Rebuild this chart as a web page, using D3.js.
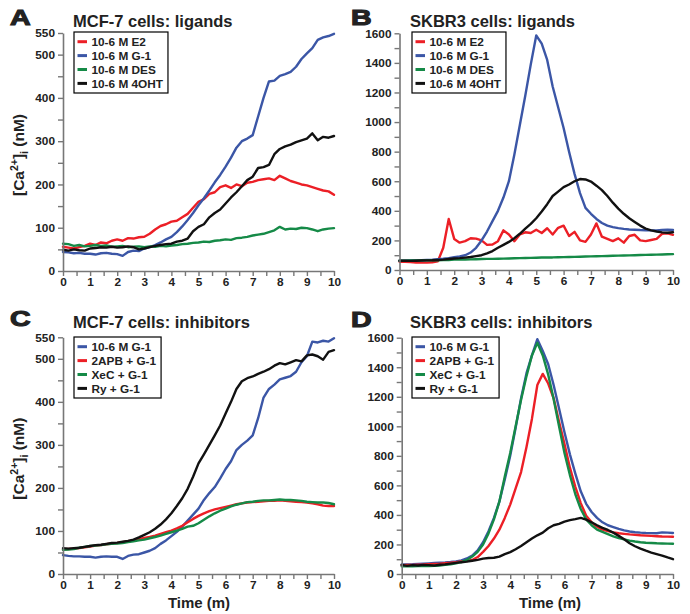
<!DOCTYPE html>
<html><head><meta charset="utf-8">
<script src="https://cdn.jsdelivr.net/npm/d3@7"></script>
<style>body{margin:0;background:#fff} text{font-family:"Liberation Sans",Arial,Helvetica,sans-serif}</style>
</head><body><svg id="c" width="690" height="614"></svg>
<script>
// ---- data ----
const time = [0,0.2,0.4,0.6,0.8,1,1.2,1.4,1.6,1.8,2,2.2,2.4,2.6,2.8,3,3.2,3.4,3.6,3.8,4,4.2,4.4,4.6,4.8,5,5.2,5.4,5.6,5.8,6,6.2,6.4,6.6,6.8,7,7.2,7.4,7.6,7.8,8,8.2,8.4,8.6,8.8,9,9.2,9.4,9.6,9.8,10];

// Panel A: MCF-7 ligands
const mcfE2   = [56,54,52,55,58, 63,60,66,64,70, 73,70,76,75,78, 79,86,96,104,108, 114,116,124,132,146, 160,166,178,182,194, 198,192,200,196,204, 206,210,212,214,210, 220,214,208,204,200, 198,194,190,186,184, 176];
const mcfG1   = [44,43,41,42,40, 40,38,41,42,40, 39,35,44,47,46, 52,55,60,66,73, 79,90,103,118,134, 152,168,186,205,222, 241,262,285,300,306, 314,357,400,438,440, 451,455,460,472,490, 503,515,534,540,543, 548];
const mcfDES  = [63,62,58,60,57, 58,60,58,59,56, 57,58,55,56,57, 55,57,56,58,57, 59,60,62,63,65, 66,68,67,70,71, 73,72,76,77,79, 82,84,86,90,94, 102,96,98,97,100, 99,96,92,96,98, 99];
const mcf4OHT = [49,47,50,48,47, 52,53,55,54,56, 54,55,57,55,50, 52,55,58,60,62, 63,68,70,75,92, 102,108,124,134,142, 156,170,182,196,210, 218,238,240,245,270, 282,288,292,298,302, 306,318,302,310,308, 312];

// Panel B: SKBR3 ligands
const skE2   = [56,55,53,50,50, 50,52,58,150,345, 210,185,195,215,212, 200,170,172,195,268, 240,195,240,255,250, 272,250,282,240,285, 300,230,258,200,190, 240,315,225,210,195, 214,185,230,238,200, 195,203,210,245,248, 238];
const skG1   = [63,63,64,65,66, 68,70,73,76,80, 86,92,100,118,150, 200,260,330,400,490, 600,780,980,1180,1390, 1585,1530,1420,1240,1100, 960,800,650,520,420, 380,345,318,300,290, 283,278,274,272,270, 269,268,268,270,272, 270];
const skDES  = [63,63,64,64,65, 65,66,66,67,68, 70,70,71,72,73, 74,75,75,76,77, 78,79,80,81,82, 83,84,85,85,86, 87,88,89,90,91, 92,93,94,95,96, 97,98,99,100,101, 102,103,104,105,106, 107];
const sk4OHT = [63,63,62,63,64, 65,66,68,70,74, 78,80,84,88,94, 100,112,128,150,170, 190,215,245,280,312, 350,395,445,500,530, 560,578,600,615,612, 598,570,540,500,455, 415,380,350,325,300, 280,268,260,254,252, 255];

// Panel C: MCF-7 inhibitors
const mcfInhG1 = [44,42,41,41,40, 40,38,40,41,40, 40,35,42,45,46, 50,54,60,70,78, 88,98,110,124,138, 152,172,188,202,222, 244,262,288,300,310, 322,362,410,430,440, 452,456,460,470,492, 506,540,538,542,540, 548];
const mcf2APB  = [57,58,59,60,62, 64,66,67,69,71, 72,74,76,78,81, 84,86,89,93,97, 101,106,112,120,128, 135,141,146,150,153, 156,159,162,164,166, 167,168,169,170,170, 171,170,169,168,167, 166,164,162,159,158, 158];
const mcfXeC   = [56,57,58,61,63, 65,66,67,69,70, 71,72,74,76,78, 80,83,86,89,93, 97,101,105,110,112, 118,126,134,141,147, 152,157,161,164,167, 168,170,171,171,172, 173,172,172,171,170, 168,167,166,166,165, 162];
const mcfRy    = [60,59,60,61,63, 65,67,68,70,72, 73,75,77,80,85, 91,97,105,115,127, 141,158,176,198,226, 257,278,300,322,345, 373,400,430,448,455, 459,465,470,476,484, 490,487,492,497,494, 508,510,506,498,516, 520];

// Panel D: SKBR3 inhibitors
const skInhG1 = [65,65,66,68,70, 72,74,76,78,81, 85,92,105,125,160, 215,290,380,490,640, 800,990,1190,1360,1480, 1590,1510,1420,1280,1120, 960,810,680,560,475, 420,380,350,330,318, 305,295,288,283,280, 278,277,276,282,280, 278];
const sk2APB  = [60,61,62,63,64, 66,68,70,73,76, 80,85,88,95,115, 150,190,240,300,380, 470,580,690,860,1050, 1280,1355,1290,1190,1030, 880,720,590,480,395, 350,320,300,290,282, 276,272,268,265,262, 260,258,256,254,253, 252];
const skXeC   = [52,52,52,53,53, 54,56,58,62,66, 72,80,95,118,150, 200,275,370,490,660, 820,1000,1180,1340,1480, 1565,1480,1350,1185,1000, 820,670,540,440,370, 330,300,285,270,255, 243,234,226,220,215, 212,210,208,207,206, 205];
const skRy    = [62,55,60,58,62, 60,57,63,65,70, 75,80,84,90,96, 104,108,110,118,135, 148,168,190,215,240, 262,280,310,330,340, 355,365,372,380,368, 350,330,312,298,280, 258,235,208,188,172, 158,145,135,125,112, 100];

const ligandLabels    = ["10-6 M E2","10-6 M G-1","10-6 M DES","10-6 M 4OHT"];
const inhibitorLabels = ["10-6 M G-1","2APB + G-1","XeC + G-1","Ry + G-1"];
const xTickLabels   = [0,1,2,3,4,5,6,7,8,9,10];
const mcfTickLabels = [0,100,200,300,400,500,550];
const skTickLabels  = [0,200,400,600,800,1000,1200,1400,1600];
const panelTitles   = ["MCF-7 cells: ligands","SKBR3 cells: ligands","MCF-7 cells: inhibitors","SKBR3 cells: inhibitors"];
const panelLetters  = ["A","B","C","D"];

// ---- styles ----
const RED="#ec1f26", BLUE="#3b56a6", GREEN="#158a47", BLACK="#111111";
const AXIS="#777777", TXT="#222222";

const panels = [
  {x0:63, x1:334, yTop:33, yBot:271, yMax:550, minor:50, labels:mcfTickLabels,
   letterX:10, letterY:25, titleX:73, titleY:26.5, legX:74, legY:32, ylab:true, xlab:null,
   series:[{n:ligandLabels[0],c:RED,v:mcfE2},{n:ligandLabels[1],c:BLUE,v:mcfG1},{n:ligandLabels[2],c:GREEN,v:mcfDES},{n:ligandLabels[3],c:BLACK,v:mcf4OHT}]},
  {x0:399.5, x1:673, yTop:33.3, yBot:270, yMax:1600, minor:100, labels:skTickLabels,
   letterX:351, letterY:25, titleX:410, titleY:26.5, legX:412, legY:32, ylab:false, xlab:null,
   series:[{n:ligandLabels[0],c:RED,v:skE2},{n:ligandLabels[1],c:BLUE,v:skG1},{n:ligandLabels[2],c:GREEN,v:skDES},{n:ligandLabels[3],c:BLACK,v:sk4OHT}]},
  {x0:63, x1:334, yTop:337.3, yBot:574, yMax:550, minor:50, labels:mcfTickLabels,
   letterX:10, letterY:326, titleX:73, titleY:328.3, legX:74, legY:337, ylab:true, xlab:199,
   series:[{n:inhibitorLabels[0],c:BLUE,v:mcfInhG1},{n:inhibitorLabels[1],c:RED,v:mcf2APB},{n:inhibitorLabels[2],c:GREEN,v:mcfXeC},{n:inhibitorLabels[3],c:BLACK,v:mcfRy}]},
  {x0:401.7, x1:673, yTop:337.7, yBot:574, yMax:1600, minor:100, labels:skTickLabels,
   letterX:351, letterY:326.5, titleX:410, titleY:328.3, legX:412, legY:337, ylab:false, xlab:550,
   series:[{n:inhibitorLabels[0],c:BLUE,v:skInhG1},{n:inhibitorLabels[1],c:RED,v:sk2APB},{n:inhibitorLabels[2],c:GREEN,v:skXeC},{n:inhibitorLabels[3],c:BLACK,v:skRy}]}
];

const svg = d3.select("#c");

panels.forEach((p, pi) => {
  const g = svg.append("g");
  const x = d3.scaleLinear().domain([0,10]).range([p.x0, p.x1]);
  const y = d3.scaleLinear().domain([0,p.yMax]).range([p.yBot, p.yTop]);

  // lines
  const line = d3.line().x((d,i)=>x(time[i])).y(d=>y(d)).curve(d3.curveLinear);
  p.series.forEach(s => {
    g.append("path").datum(s.v).attr("d", line)
      .attr("fill","none").attr("stroke", s.c).attr("stroke-width", 2.4)
      .attr("stroke-linejoin","round").attr("stroke-linecap","round");
  });

  // y axis
  const yAxis = d3.axisLeft(y).tickValues(d3.range(0, p.yMax + 1, p.minor))
    .tickFormat(d => p.labels.includes(d) ? d : "").tickSize(5).tickSizeOuter(0).tickPadding(3);
  const ya = g.append("g").attr("transform", `translate(${p.x0},0)`).call(yAxis);
  // x axis
  const xAxis = d3.axisBottom(x).tickValues(d3.range(0, 10.01, 0.5))
    .tickFormat(d => xTickLabels.includes(d) ? d : "").tickSize(5).tickSizeOuter(0).tickPadding(2);
  const xa = g.append("g").attr("transform", `translate(0,${p.yBot})`).call(xAxis);
  [ya, xa].forEach(a => {
    a.select(".domain").attr("stroke", AXIS).attr("stroke-width", 1.6);
    a.selectAll(".tick line").attr("stroke", AXIS).attr("stroke-width", 1.4);
    a.selectAll(".tick text").attr("fill", TXT).attr("font-size", "11.8px").attr("font-weight", "bold")
      .attr("font-family", '"Liberation Sans",Arial,sans-serif');
  });

  // letter
  g.append("text").attr("transform", `translate(${p.letterX},${p.letterY}) scale(1.3,1)`)
    .attr("font-size", "22px").attr("font-weight", "900").attr("fill", TXT)
    .attr("stroke", TXT).attr("stroke-width", 1.1).text(panelLetters[pi]);
  // title
  g.append("text").attr("x", p.titleX).attr("y", p.titleY)
    .attr("font-size", "16.5px").attr("font-weight", "bold").attr("fill", TXT).text(panelTitles[pi]);

  // legend
  const lg = g.append("g").attr("transform", `translate(${p.legX},${p.legY})`);
  const box = lg.append("rect").attr("x",0).attr("y",0).attr("height",61)
    .attr("fill","#fff").attr("stroke","#000").attr("stroke-width",1.2);
  let maxW = 0;
  p.series.forEach((s, i) => {
    const cy = 9.7 + i*13.9;
    lg.append("line").attr("x1",3.5).attr("x2",13).attr("y1",cy).attr("y2",cy)
      .attr("stroke", s.c).attr("stroke-width", 3);
    const t = lg.append("text").attr("x",17.5).attr("y",cy).attr("dy","0.36em")
      .attr("font-size","11.8px").attr("font-weight","bold").attr("fill",TXT).text(s.n);
    maxW = Math.max(maxW, t.node().getComputedTextLength());
  });
  box.attr("width", 17.5 + maxW + 5);

  // y label
  if (p.ylab) {
    const cy = (p.yTop + p.yBot) / 2 + 3;
    const t = g.append("text").attr("transform", `translate(24,${cy}) rotate(-90)`)
      .attr("text-anchor","middle").attr("font-size","15.5px").attr("font-weight","bold").attr("fill",TXT);
    t.append("tspan").text("[Ca");
    t.append("tspan").attr("font-size","10.5px").attr("dy",-6).text("2+");
    t.append("tspan").attr("dy",6).text("]");
    t.append("tspan").attr("font-size","10.5px").attr("dy",4).text("i");
    t.append("tspan").attr("dy",-4).text(" (nM)");
  }
  if (p.xlab) {
    g.append("text").attr("x", p.xlab).attr("y", 608).attr("text-anchor","middle")
      .attr("font-size","15px").attr("font-weight","bold").attr("fill",TXT).text("Time (m)");
  }
});
</script>
</body></html>
